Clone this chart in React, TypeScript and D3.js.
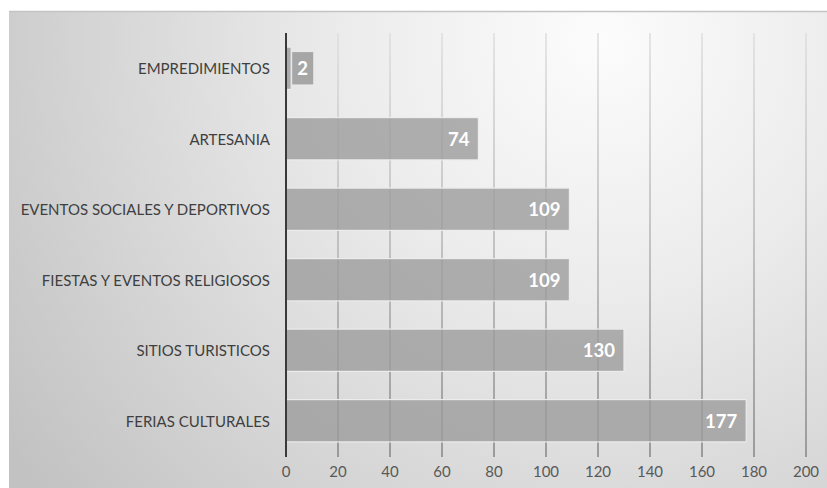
import React from "react";
import * as d3 from "d3";

const categories = [
  "EMPREDIMIENTOS",
  "ARTESANIA",
  "EVENTOS SOCIALES Y DEPORTIVOS",
  "FIESTAS Y EVENTOS RELIGIOSOS",
  "SITIOS TURISTICOS",
  "FERIAS CULTURALES",
];
const values = [2, 74, 109, 109, 130, 177];
const ticks = [0, 20, 40, 60, 80, 100, 120, 140, 160, 180, 200];

const W = 827;
const H = 488;

export default function App() {
  const x = d3.scaleLinear().domain([0, 200]).range([286, 806]);
  const y = d3
    .scaleBand<string>()
    .domain(categories)
    .range([33, 456])
    .paddingInner(0.4)
    .paddingOuter(0.2);
  const bw = y.bandwidth();
  const font = "Lato, 'Open Sans', sans-serif";

  return (
    <div style={{ position: "absolute", left: 0, top: 0 }}>
      <svg width={W} height={H} style={{ display: "block" }}>
        <defs>
          <radialGradient id="bg" gradientUnits="userSpaceOnUse" cx={600} cy={40} r={720}>
            <stop offset="0" stopColor="#fcfcfc" />
            <stop offset="0.35" stopColor="#ececec" />
            <stop offset="1" stopColor="#c2c2c2" />
          </radialGradient>
          <linearGradient id="grid" gradientUnits="userSpaceOnUse" x1={0} y1={33} x2={0} y2={457}>
            <stop offset="0" stopColor="#dedede" />
            <stop offset="0.5" stopColor="#b4b4b4" />
            <stop offset="1" stopColor="#858585" />
          </linearGradient>
        </defs>
        <rect x={0} y={0} width={W} height={H} fill="#ffffff" />
        <rect x={9} y={11} width={W - 9} height={H - 11} fill="url(#bg)" />
        <line x1={9} x2={W} y1={11.5} y2={11.5} stroke="#c4c4c4" strokeWidth={1.5} />
        {ticks.map((t) => (
          <line
            key={"g" + t}
            x1={x(t)}
            x2={x(t)}
            y1={33}
            y2={457}
            stroke="url(#grid)"
            strokeWidth={1.5}
          />
        ))}
        {categories.map((c, i) => {
          const yy = y(c)!;
          const x1 = x(values[i]);
          return (
            <g key={c}>
              <rect
                x={x(0)}
                y={yy}
                width={x1 - x(0)}
                height={bw}
                fill="#9c9c9c"
                fillOpacity={0.8}
                stroke="#ececec"
                strokeWidth={1.2}
              />
              <text
                x={270}
                y={yy + bw / 2}
                textAnchor="end"
                dominantBaseline="central"
                fontFamily={font}
                fontSize={15}
                fill="#3f3f3f"
              >
                {c}
              </text>
            </g>
          );
        })}
        {categories.map((c, i) => {
          const yy = y(c)!;
          const x1 = x(values[i]);
          if (values[i] < 10) {
            return (
              <g key={"l" + c}>
                <rect x={x1 + 1} y={yy + 5} width={21} height={bw - 10} fill="#a6a6a6" />
                <text
                  x={x1 + 11.5}
                  y={yy + bw / 2}
                  textAnchor="middle"
                  dominantBaseline="central"
                  fontFamily={font}
                  fontWeight="bold"
                  fontSize={18.5}
                  fill="#ffffff"
                >
                  {values[i]}
                </text>
              </g>
            );
          }
          return (
            <text
              key={"l" + c}
              x={x1 - 9}
              y={yy + bw / 2}
              textAnchor="end"
              dominantBaseline="central"
              fontFamily={font}
              fontWeight="bold"
              fontSize={18.5}
              fill="#ffffff"
            >
              {values[i]}
            </text>
          );
        })}
        <line x1={x(0)} x2={x(0)} y1={33} y2={457} stroke="#3a3a3a" strokeWidth={2} />
        {ticks.map((t) => (
          <text
            key={"t" + t}
            x={x(t)}
            y={471}
            textAnchor="middle"
            dominantBaseline="central"
            fontFamily={font}
            fontSize={15}
            fill="#595959"
          >
            {t}
          </text>
        ))}
      </svg>
    </div>
  );
}
